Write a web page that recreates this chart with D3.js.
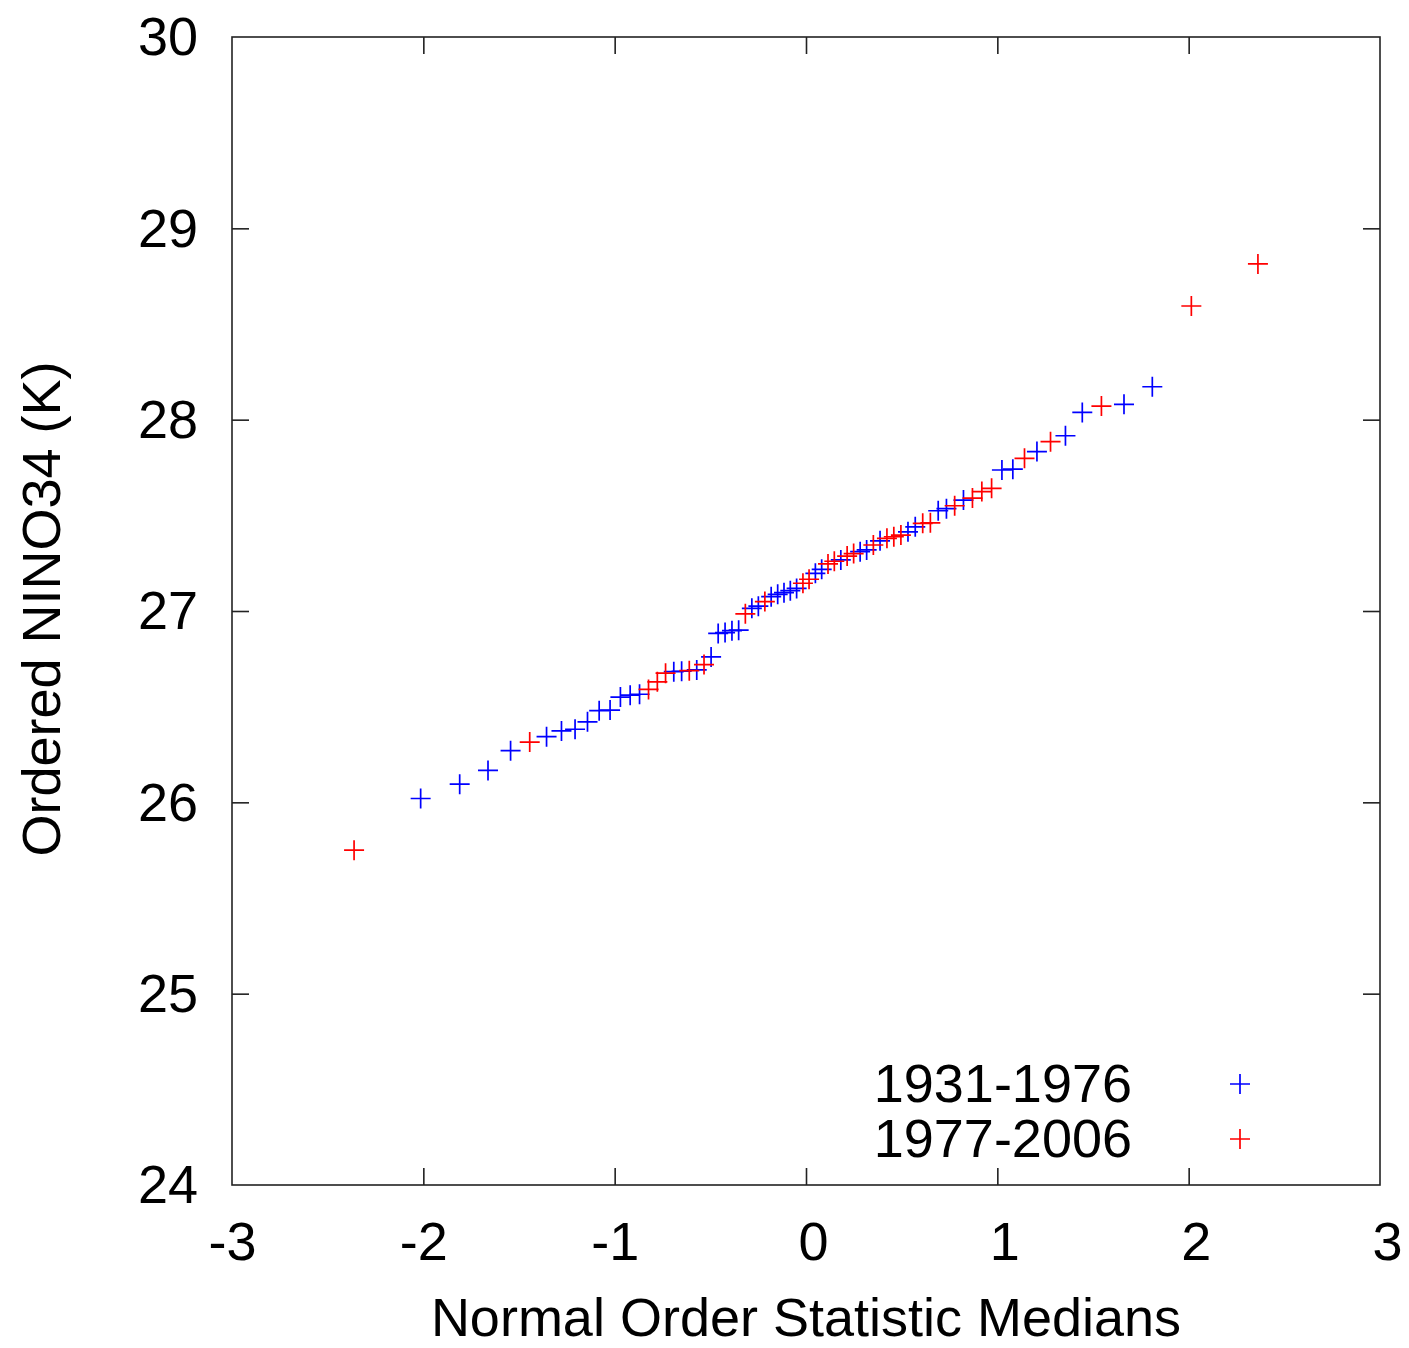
<!DOCTYPE html>
<html>
<head>
<meta charset="utf-8">
<script src="https://cdn.jsdelivr.net/npm/d3@7"></script>
<style>
  html, body { margin: 0; padding: 0; background: #fff; }
  svg { display: block; }
  text { font-family: "Liberation Sans", Arial, sans-serif; fill: #000; }
</style>
</head>
<body>
<div id="chart"></div>
<script>
// ---- Data ----
const seriesNames = ["1931-1976", "1977-2006"];
const seriesColors = ["#0000ff", "#ff0000"];

const earlyX = [-2.014,-1.810,-1.662,-1.544,-1.356,-1.278,-1.207,-1.142,-1.081,-1.024,-0.970,-0.919,-0.870,-0.691,-0.650,-0.571,-0.496,-0.459,-0.423,-0.387,-0.352,-0.283,-0.249,-0.182,-0.148,-0.115,-0.082,-0.049,0.049,0.082,0.182,0.283,0.317,0.387,0.533,0.571,0.691,0.734,0.823,1.024,1.081,1.207,1.356,1.444,1.662,1.810];
const earlyY = [26.02,26.095,26.167,26.27,26.343,26.373,26.382,26.421,26.479,26.482,26.55,26.56,26.565,26.683,26.685,26.692,26.76,26.883,26.887,26.897,26.90,27.014,27.025,27.075,27.087,27.096,27.106,27.118,27.197,27.218,27.267,27.31,27.319,27.367,27.414,27.44,27.524,27.535,27.58,27.737,27.741,27.833,27.916,28.038,28.08,28.172];

const lateX = [-2.362,-1.444,-0.823,-0.777,-0.734,-0.610,-0.533,-0.317,-0.215,-0.016,0.016,0.115,0.148,0.215,0.249,0.352,0.423,0.459,0.496,0.610,0.650,0.777,0.870,0.919,0.970,1.142,1.278,1.544,2.014,2.362];
const lateY = [25.75,26.315,26.59,26.63,26.675,26.688,26.72,26.985,27.049,27.145,27.166,27.246,27.26,27.287,27.30,27.345,27.38,27.388,27.397,27.458,27.461,27.55,27.59,27.624,27.641,27.798,27.885,28.071,28.594,28.814];

const xTicks = [-3,-2,-1,0,1,2,3];
const yTicks = [24,25,26,27,28,29,30];
const xTitle = "Normal Order Statistic Medians";
const yTitle = "Ordered NINO34 (K)";

// ---- Layout ----
const W = 1409, H = 1348;
const L = 232, R = 1380, T = 37, B = 1185;
const tickLen = 17;
const fontSize = 54;

const svg = d3.select("#chart").append("svg").attr("width", W).attr("height", H);

const x = d3.scaleLinear().domain([-3, 3]).range([L, R]);
const y = d3.scaleLinear().domain([24, 30]).range([B, T]);

const frameColor = "#222";

const gx = svg.append("g").attr("transform", `translate(0,${B})`)
  .call(d3.axisBottom(x).tickValues(xTicks).tickSizeInner(-tickLen).tickSizeOuter(0).tickFormat(d3.format("d")));
const gxTop = svg.append("g").attr("transform", `translate(0,${T})`)
  .call(d3.axisTop(x).tickValues(xTicks).tickSizeInner(-tickLen).tickSizeOuter(0).tickFormat(""));
const gy = svg.append("g").attr("transform", `translate(${L},0)`)
  .call(d3.axisLeft(y).tickValues(yTicks).tickSizeInner(-tickLen).tickSizeOuter(0).tickFormat(d3.format("d")));
const gyR = svg.append("g").attr("transform", `translate(${R},0)`)
  .call(d3.axisRight(y).tickValues(yTicks).tickSizeInner(-tickLen).tickSizeOuter(0).tickFormat(""));

[gx, gxTop, gy, gyR].forEach(g => {
  g.select(".domain").remove();
  g.selectAll(".tick line").attr("stroke", frameColor).attr("stroke-width", 1.6);
});

gx.selectAll(".tick text")
  .attr("y", 56).attr("dy", 0)
  .attr("x", d => d >= 0 ? 7 : 0)
  .attr("dominant-baseline", "central")
  .style("font-size", fontSize + "px")
  .style("font-family", "'Liberation Sans', Arial, sans-serif")
  .attr("fill", "#000")
  .text(d => d < 0 ? "-" + Math.abs(d) : String(d));

gy.selectAll(".tick text")
  .attr("x", -34).attr("dy", "0.33em")
  .style("font-size", fontSize + "px")
  .style("font-family", "'Liberation Sans', Arial, sans-serif")
  .attr("fill", "#000");

gx.selectAll(".tick").filter(d => d === -3 || d === 3).select("line").remove();
gxTop.selectAll(".tick").filter(d => d === -3 || d === 3).select("line").remove();
gy.selectAll(".tick").filter(d => d === 24 || d === 30).select("line").remove();
gyR.selectAll(".tick").filter(d => d === 24 || d === 30).select("line").remove();

svg.append("rect")
  .attr("x", L).attr("y", T).attr("width", R - L).attr("height", B - T)
  .attr("fill", "none").attr("stroke", frameColor).attr("stroke-width", 1.6);

svg.append("text")
  .attr("x", (L + R) / 2).attr("y", 1336)
  .attr("text-anchor", "middle")
  .style("font-size", "54px")
  .text(xTitle);

svg.append("text")
  .attr("transform", `translate(60,${(T + B) / 2 - 2}) rotate(-90)`)
  .attr("text-anchor", "middle")
  .style("font-size", fontSize + "px")
  .text(yTitle);

const half = 10;
function cross(g, cx, cy, color) {
  g.append("path")
    .attr("d", `M${cx - half},${cy}H${cx + half}M${cx},${cy - half}V${cy + half}`)
    .attr("stroke", color).attr("stroke-width", 1.7).attr("fill", "none");
}

const series = [
  { name: seriesNames[0], color: seriesColors[0], xs: earlyX, ys: earlyY },
  { name: seriesNames[1], color: seriesColors[1], xs: lateX, ys: lateY }
];

const pts = svg.append("g");
series.forEach(s => {
  s.xs.forEach((xv, i) => cross(pts, x(xv), y(s.ys[i]), s.color));
});

const legendY = [1083, 1138];
series.forEach((s, i) => {
  svg.append("text")
    .attr("x", 1132).attr("y", legendY[i])
    .attr("dy", "0.36em")
    .attr("text-anchor", "end")
    .style("font-size", fontSize + "px")
    .text(s.name);
  cross(svg, 1240, legendY[i] + 1, s.color);
});
</script>
</body>
</html>
